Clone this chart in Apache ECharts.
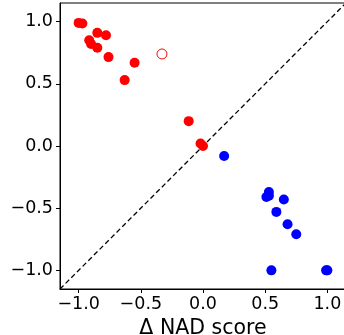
<!DOCTYPE html>
<html>
<head>
<meta charset="utf-8">
<script src="https://cdn.jsdelivr.net/npm/echarts@6/dist/echarts.min.js"></script>
<style>
  html, body { margin: 0; padding: 0; background: #fff; }
  #chart { width: 344px; height: 335px; }
</style>
</head>
<body>
<div id="chart"></div>
<script>
// tick positions shared by both axes
const tickValues = [-1.0, -0.5, 0.0, 0.5, 1.0];

// red points (filled)
const redPoints = [
  [-1.0, 0.99], [-0.97, 0.985], [-0.915, 0.85], [-0.90, 0.82],
  [-0.85, 0.91], [-0.85, 0.79], [-0.78, 0.89], [-0.76, 0.715],
  [-0.55, 0.67], [-0.63, 0.53], [-0.115, 0.20], [-0.02, 0.02], [0.0, 0.0]
];
// red point (hollow)
const redOpen = [[-0.33, 0.74]];
// blue points
const bluePoints = [
  [0.17, -0.08], [0.53, -0.37], [0.51, -0.41], [0.53, -0.40],
  [0.65, -0.43], [0.59, -0.53], [0.68, -0.63], [0.75, -0.71],
  [0.55, -1.0], [0.99, -1.0], [1.0, -1.0]
];
// y = x reference line
const diagonal = [[-1.15, -1.15], [1.15, 1.15]];

const fmt = (v) => v.toFixed(1).replace('-', '\u2212');

const axisCommon = {
  type: 'value',
  min: -1.15,
  max: 1.15,
  splitLine: { show: false },
  axisLine: { show: true, onZero: false, lineStyle: { color: '#000', width: 1 } },
  axisTick: {
    show: true, inside: false, length: 4,
    customValues: tickValues,
    lineStyle: { color: '#000', width: 1 }
  },
  axisLabel: {
    customValues: tickValues,
    formatter: fmt,
    color: '#000',
    fontSize: 17.5,
    fontFamily: 'DejaVu Sans'
  }
};

const chart = echarts.init(document.getElementById('chart'));
chart.setOption({
  animation: false,
  grid: {
    left: 60, top: 3, right: -2, bottom: 46,
    containLabel: false,
    outerBoundsMode: 'none',
    show: true, borderColor: '#000', borderWidth: 1
  },
  xAxis: Object.assign({}, axisCommon, {
    name: '\u0394 NAD score',
    nameLocation: 'middle',
    nameGap: 24,
    nameTextStyle: { color: '#000', fontSize: 20.5, fontFamily: 'DejaVu Sans' },
    axisLabel: Object.assign({}, axisCommon.axisLabel, { margin: 6 })
  }),
  yAxis: Object.assign({}, axisCommon, {
    axisLabel: Object.assign({}, axisCommon.axisLabel, { margin: 7 })
  }),
  series: [
    {
      type: 'line',
      data: diagonal,
      symbol: 'none',
      lineStyle: { color: '#000', width: 1.3, type: [5, 3] },
      z: 1
    },
    {
      type: 'scatter',
      data: redPoints,
      symbol: 'circle',
      symbolSize: 10,
      itemStyle: { color: '#ff0000', opacity: 1 },
      z: 3
    },
    {
      type: 'scatter',
      data: redOpen,
      symbol: 'circle',
      symbolSize: 10,
      itemStyle: { color: '#fff', borderColor: '#ff0000', borderWidth: 1, opacity: 1 },
      z: 3
    },
    {
      type: 'scatter',
      data: bluePoints,
      symbol: 'circle',
      symbolSize: 10,
      itemStyle: { color: '#0000ff', opacity: 1 },
      z: 3
    }
  ]
});
</script>
</body>
</html>
